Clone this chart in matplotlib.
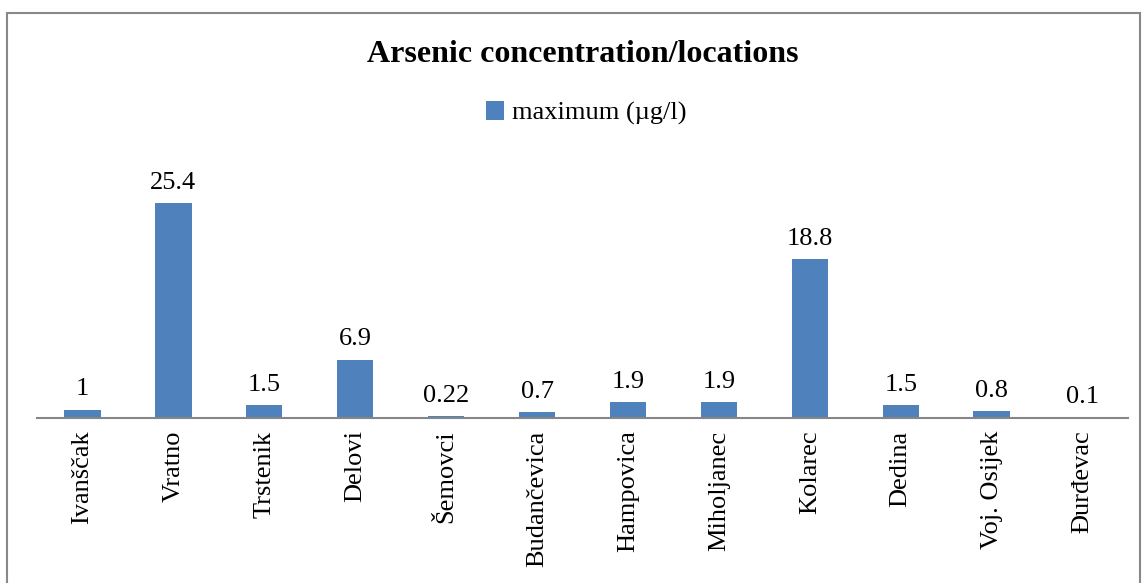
import matplotlib.pyplot as plt
import numpy as np
from matplotlib.patches import Rectangle

locations = ['Ivanščak', 'Vratno', 'Trstenik', 'Delovi', 'Šemovci', 'Budančevica',
             'Hampovica', 'Miholjanec', 'Kolarec', 'Dedina', 'Voj. Osijek', 'Đurđevac']
maximum = [1, 25.4, 1.5, 6.9, 0.22, 0.7, 1.9, 1.9, 18.8, 1.5, 0.8, 0.1]
value_labels = ['1', '25.4', '1.5', '6.9', '0.22', '0.7', '1.9', '1.9', '18.8', '1.5', '0.8', '0.1']

plt.rcParams['font.family'] = ['Liberation Serif', 'DejaVu Serif']

fig = plt.figure(figsize=(11.43, 5.83), dpi=100)
W, H = 1143, 583

# outer chart frame
fig.patches.append(Rectangle((7 / W, -0.05), (1140 - 7) / W, 1.05 - 13 / H,
                             transform=fig.transFigure, fill=False,
                             edgecolor='#888888', linewidth=1.5))

ax = fig.add_axes([37 / W, 1 - 418 / H, (1128 - 37) / W, (418 - 150) / H])
x = np.arange(len(locations))
bars = ax.bar(x, maximum, width=0.4, color='#4F81BD', label='maximum (µg/l)')
ax.set_xlim(-0.5, len(locations) - 0.5)
ax.set_ylim(0, 31.7)

for xi, v, lab in zip(x, maximum, value_labels):
    ax.text(xi, v + 1.1, lab, ha='center', va='bottom', fontsize=19)

for s in ['top', 'right', 'left']:
    ax.spines[s].set_visible(False)
ax.spines['bottom'].set_color('#868686')
ax.spines['bottom'].set_linewidth(1.5)
ax.set_yticks([])
ax.set_xticks(x)
ax.set_xticklabels(locations, rotation=90, fontsize=19)
ax.tick_params(axis='x', length=0, pad=9)

fig.text(583 / W, 1 - 55 / H, 'Arsenic concentration/locations', ha='center', va='center',
         fontsize=23, fontweight='bold')
fig.legend(handles=[bars], loc='center', bbox_to_anchor=(586 / W, 1 - 113 / H),
           frameon=False, fontsize=19, handlelength=0.7, handleheight=0.7,
           handletextpad=0.3, borderpad=0)

fig.savefig('out.png', dpi=100)
